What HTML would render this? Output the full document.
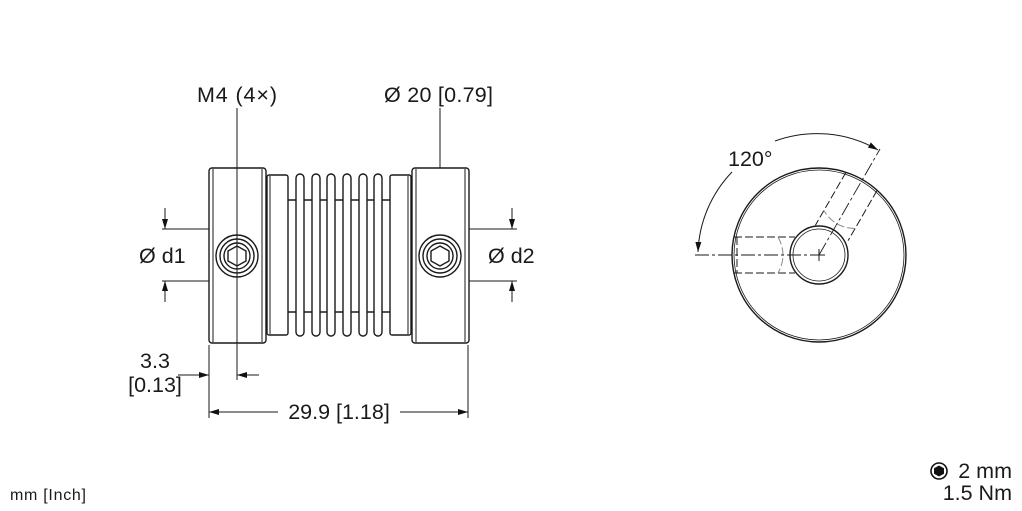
<!DOCTYPE html>
<html><head><meta charset="utf-8"><style>
html,body{margin:0;padding:0;background:#fff;}
svg{display:block;font-family:"Liberation Sans",sans-serif;}
</style></head><body>
<svg width="1022" height="511" viewBox="0 0 1022 511" xmlns="http://www.w3.org/2000/svg">
<defs>
<marker id="ar" viewBox="0 0 10 6" refX="10" refY="3" markerWidth="10" markerHeight="6" orient="auto" markerUnits="userSpaceOnUse"><path d="M0,0 L10,3 L0,6z" fill="#111"/></marker>
</defs>
<g fill="none" stroke="#1a1a1a" stroke-width="1.4">
<line x1="288" y1="200" x2="390" y2="200"/>
<line x1="288" y1="312" x2="390" y2="312"/>
<g fill="#fff">
<rect x="296" y="174" width="8" height="162" rx="4"/>
<rect x="312" y="174" width="8" height="162" rx="4"/>
<rect x="327" y="174" width="8" height="162" rx="4"/>
<rect x="343" y="174" width="8" height="162" rx="4"/>
<rect x="359" y="174" width="8" height="162" rx="4"/>
<rect x="374" y="174" width="8" height="162" rx="4"/>
<rect x="267" y="175" width="21" height="160" rx="2"/>
<rect x="390" y="175" width="21" height="160" rx="2"/>
<rect x="209" y="168" width="57" height="175" rx="3"/>
<rect x="412" y="168" width="57" height="175" rx="3"/>
</g>
<line x1="213" y1="169" x2="213" y2="342" stroke-width="1"/>
<line x1="262" y1="169" x2="262" y2="342" stroke-width="1"/>
<line x1="416" y1="169" x2="416" y2="342" stroke-width="1"/>
<line x1="465" y1="169" x2="465" y2="342" stroke-width="1"/>
<line x1="270" y1="176" x2="270" y2="334" stroke-width="1"/>
<line x1="408" y1="176" x2="408" y2="334" stroke-width="1"/>
<circle cx="237" cy="256" r="21"/><circle cx="237" cy="256" r="17"/><circle cx="237" cy="256" r="13"/>
<polygon points="237,246 246,251 246,261 237,266 228,261 228,251"/>
<circle cx="440" cy="256" r="21"/><circle cx="440" cy="256" r="17"/><circle cx="440" cy="256" r="13"/>
<polygon points="440,246 449,251 449,261 440,266 431,261 431,251"/>
</g>
<g stroke="#1a1a1a" stroke-width="1" fill="none">
<line x1="237" y1="108" x2="237" y2="380"/>
<line x1="440" y1="108" x2="440" y2="168"/>
<line x1="162" y1="229" x2="209" y2="229"/>
<line x1="162" y1="281" x2="209" y2="281"/>
<line x1="165" y1="208" x2="165" y2="229" marker-end="url(#ar)"/>
<line x1="165" y1="302" x2="165" y2="281" marker-end="url(#ar)"/>
<line x1="469" y1="229" x2="517" y2="229"/>
<line x1="469" y1="281" x2="517" y2="281"/>
<line x1="512" y1="208" x2="512" y2="229" marker-end="url(#ar)"/>
<line x1="512" y1="302" x2="512" y2="281" marker-end="url(#ar)"/>
<line x1="209" y1="345" x2="209" y2="418"/>
<line x1="468" y1="345" x2="468" y2="418"/>
<line x1="178" y1="375" x2="209" y2="375" marker-end="url(#ar)"/>
<line x1="259" y1="375" x2="237" y2="375" marker-end="url(#ar)"/>
<line x1="278" y1="412" x2="209" y2="412" marker-end="url(#ar)"/>
<line x1="400" y1="412" x2="468" y2="412" marker-end="url(#ar)"/>
</g>
<g font-size="21.5" fill="#1a1a1a">
<text x="197" y="102" textLength="80">M4 (4×)</text>
<text x="384" y="102" textLength="109">Ø 20 [0.79]</text>
<text x="139" y="263">Ø d1</text>
<text x="488" y="263">Ø d2</text>
<text x="155" y="368" text-anchor="middle">3.3</text>
<text x="155" y="392" text-anchor="middle">[0.13]</text>
<text x="339" y="419" text-anchor="middle">29.9 [1.18]</text>
<text x="728" y="166">120°</text>
<text x="1012" y="478" text-anchor="end">2 mm</text>
<text x="1012" y="500" text-anchor="end">1.5 Nm</text>
</g>
<text x="10" y="500" font-size="16" fill="#1a1a1a" textLength="76">mm [Inch]</text>
<circle cx="939" cy="471" r="8" fill="none" stroke="#111" stroke-width="1.6"/>
<polygon points="939,465.5 944,468.3 944,473.7 939,476.5 934,473.7 934,468.3" fill="#111"/>
<g fill="none" stroke="#1a1a1a">
<circle cx="819" cy="255" r="87" stroke-width="1.4"/>
<circle cx="819" cy="255" r="85" stroke-width="0.8"/>
<circle cx="819" cy="255" r="29" stroke-width="1.4"/>
<circle cx="819" cy="255" r="26" stroke-width="0.8"/>
<g stroke-width="1" stroke-dasharray="8,3">
<line x1="734" y1="237" x2="795" y2="237"/>
<line x1="734" y1="273" x2="795" y2="273"/>
<line x1="737" y1="237" x2="737" y2="273"/>
<path d="M778,237 Q788,255 778,273" stroke="#888"/>
<g transform="rotate(120 819 255)">
<line x1="734" y1="237" x2="792" y2="237"/>
<line x1="734" y1="273" x2="795" y2="273"/>
<path d="M778,237 Q788,255 778,273" stroke="#888"/>
</g>
</g>
<line x1="695" y1="255" x2="822" y2="255" stroke-width="0.9" stroke-dasharray="14,3,3,3"/>
<line x1="819" y1="255" x2="880" y2="149" stroke-width="0.9" stroke-dasharray="14,3,3,3"/>
<line x1="813" y1="255" x2="825" y2="255" stroke-width="1"/>
<line x1="819" y1="249" x2="819" y2="261" stroke-width="1"/>
<path d="M732,172 A122 122 0 0 0 698,252" stroke-width="1" marker-end="url(#ar)"/>
<path d="M775,141 A122 122 0 0 1 878,150" stroke-width="1" marker-end="url(#ar)"/>
</g>
</svg>
</body></html>
